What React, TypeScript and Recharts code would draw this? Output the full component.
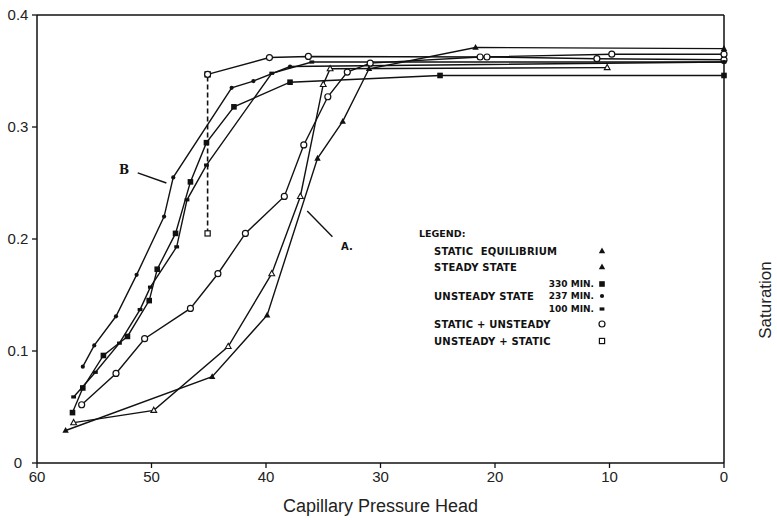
import React from 'react'
import { LineChart, Line, XAxis, YAxis, ReferenceLine } from 'recharts'

type Pt = { head: number; sat: number }

const headTicks = [0, 10, 20, 30, 40, 50, 60]
const topTicks = [10, 20, 30, 40, 50]
const satTicks = [0, 0.1, 0.2, 0.3, 0.4]

const staticEquilibrium: Pt[] = [
  { head: 57.5, sat: 0.029 },
  { head: 44.7, sat: 0.077 },
  { head: 39.9, sat: 0.132 },
  { head: 35.5, sat: 0.272 },
  { head: 33.3, sat: 0.305 },
  { head: 31.0, sat: 0.352 },
  { head: 21.7, sat: 0.371 },
  { head: 0, sat: 0.370 },
]

const steadyState: Pt[] = [
  { head: 56.8, sat: 0.036 },
  { head: 49.8, sat: 0.047 },
  { head: 43.3, sat: 0.104 },
  { head: 39.5, sat: 0.169 },
  { head: 37.0, sat: 0.238 },
  { head: 35.0, sat: 0.338 },
  { head: 34.4, sat: 0.352 },
  { head: 10.2, sat: 0.353 },
]

const unsteady330: Pt[] = [
  { head: 56.9, sat: 0.045 },
  { head: 56.0, sat: 0.067 },
  { head: 54.2, sat: 0.096 },
  { head: 52.1, sat: 0.113 },
  { head: 50.2, sat: 0.145 },
  { head: 49.5, sat: 0.173 },
  { head: 47.9, sat: 0.205 },
  { head: 46.6, sat: 0.251 },
  { head: 45.2, sat: 0.286 },
  { head: 42.8, sat: 0.318 },
  { head: 37.9, sat: 0.340 },
  { head: 24.8, sat: 0.346 },
  { head: 0, sat: 0.346 },
]

const unsteady237: Pt[] = [
  { head: 56.0, sat: 0.086 },
  { head: 55.0, sat: 0.105 },
  { head: 53.1, sat: 0.131 },
  { head: 51.3, sat: 0.168 },
  { head: 48.9, sat: 0.220 },
  { head: 48.1, sat: 0.255 },
  { head: 43.0, sat: 0.335 },
  { head: 41.1, sat: 0.341 },
  { head: 37.9, sat: 0.354 },
  { head: 0, sat: 0.358 },
]

const unsteady100: Pt[] = [
  { head: 56.8, sat: 0.059 },
  { head: 54.9, sat: 0.081 },
  { head: 52.8, sat: 0.107 },
  { head: 51.0, sat: 0.137 },
  { head: 50.1, sat: 0.157 },
  { head: 47.8, sat: 0.193 },
  { head: 46.9, sat: 0.235 },
  { head: 45.2, sat: 0.266 },
  { head: 39.5, sat: 0.348 },
  { head: 36.0, sat: 0.358 },
  { head: 0, sat: 0.358 },
]

const staticUnsteady: Pt[] = [
  { head: 56.1, sat: 0.052 },
  { head: 53.1, sat: 0.080 },
  { head: 50.6, sat: 0.111 },
  { head: 46.6, sat: 0.138 },
  { head: 44.2, sat: 0.169 },
  { head: 41.8, sat: 0.205 },
  { head: 38.4, sat: 0.238 },
  { head: 36.7, sat: 0.284 },
  { head: 34.6, sat: 0.327 },
  { head: 32.9, sat: 0.349 },
  { head: 30.9, sat: 0.357 },
  { head: 21.3, sat: 0.3625 },
  { head: 9.8, sat: 0.365 },
  { head: 0, sat: 0.365 },
]

const unsteadyStaticDrop: Pt[] = [
  { head: 45.1, sat: 0.205 },
  { head: 45.1, sat: 0.347 },
]

const unsteadyStatic: Pt[] = [
  { head: 45.1, sat: 0.347 },
  { head: 39.7, sat: 0.362 },
  { head: 36.3, sat: 0.363 },
  { head: 20.7, sat: 0.3625 },
  { head: 11.1, sat: 0.361 },
  { head: 0, sat: 0.360 },
]

const legendRows = [
  { label: 'STATIC  EQUILIBRIUM', sub: '', kind: 'triFilled' },
  { label: 'STEADY STATE', sub: '', kind: 'triSmall' },
  { label: '', sub: '330 MIN.', kind: 'bar' },
  { label: 'UNSTEADY STATE', sub: '237 MIN.', kind: 'dot' },
  { label: '', sub: '100 MIN.', kind: 'dash' },
  { label: 'STATIC + UNSTEADY', sub: '', kind: 'openCircle' },
  { label: 'UNSTEADY + STATIC', sub: '', kind: 'openSquare' },
]
const legendY = [251, 267, 284, 296, 309, 324, 341]

const INK = '#111'
const sans = '"Liberation Sans", Arial, Helvetica, sans-serif'

function marker(kind: string, cx: number, cy: number, key?: string) {
  switch (kind) {
    case 'triFilled':
      return <path key={key} d={`M${cx},${cy - 3.5}L${cx + 3.2},${cy + 2.3}L${cx - 3.2},${cy + 2.3}Z`} fill={INK} />
    case 'triSmall':
      return <path key={key} d={`M${cx},${cy - 3.2}L${cx + 2.9},${cy + 2}L${cx - 2.9},${cy + 2}Z`} fill="#fff" stroke={INK} strokeWidth={1.1} />
    case 'bar':
      return <rect key={key} x={cx - 2.8} y={cy - 2.8} width={5.6} height={5.6} fill={INK} />
    case 'dot':
      return <circle key={key} cx={cx} cy={cy} r={2.1} fill={INK} />
    case 'dash':
      return <rect key={key} x={cx - 2.4} y={cy - 1.6} width={4.8} height={3.2} fill={INK} />
    case 'openCircle':
      return <circle key={key} cx={cx} cy={cy} r={3} fill="#fff" stroke={INK} strokeWidth={1.2} />
    case 'openSquare':
      return <rect key={key} x={cx - 2.6} y={cy - 2.6} width={5.2} height={5.2} fill="#fff" stroke={INK} strokeWidth={1.2} />
    default:
      return <g key={key} />
  }
}

const dotOf = (kind: string) => (p: any) => {
  const k = `${kind}-${p.index}`
  if (p.cx == null || p.cy == null) return <g key={k} />
  return marker(kind, p.cx, p.cy, k)
}

const fmt = (v: number) => (v === 0 ? '0' : v.toFixed(1))

const LeftTick = (p: any) => (
  <text x={18} y={p.y} dy={5} textAnchor="middle" fontSize={15} fill="#222" fontFamily={sans}>
    {fmt(p.payload.value)}
  </text>
)

const RightTick = (p: any) => (
  <text x={746} y={p.y} dy={5} textAnchor="middle" fontSize={15} fill="#222" fontFamily={sans}>
    {fmt(p.payload.value)}
  </text>
)

const lineProps = {
  xAxisId: 'x',
  yAxisId: 'left',
  dataKey: 'sat',
  type: 'linear' as const,
  stroke: INK,
  strokeWidth: 1.4,
  activeDot: false,
  isAnimationActive: false,
}

export default function App() {
  return (
    <div style={{ position: 'absolute', left: 0, top: 0, width: 777, height: 520, background: '#fff' }}>
      <LineChart width={777} height={520} margin={{ top: 0, right: 0, bottom: 0, left: 0 }}>
        <XAxis
          xAxisId="x"
          dataKey="head"
          type="number"
          domain={[0, 60]}
          reversed
          ticks={headTicks}
          height={57}
          tickSize={5}
          tickMargin={3}
          axisLine={{ stroke: INK, strokeWidth: 1.5 }}
          tickLine={{ stroke: INK, strokeWidth: 1.3 }}
          tick={{ fontSize: 15, fill: '#222', fontFamily: sans }}
          label={{ value: 'Capillary Pressure Head', position: 'insideBottom', offset: 8, fontSize: 18, fill: '#222', fontFamily: sans }}
        />
        <XAxis
          xAxisId="top"
          orientation="top"
          dataKey="head"
          type="number"
          domain={[0, 60]}
          reversed
          ticks={topTicks}
          height={15}
          tickSize={5}
          tick={false}
          axisLine={{ stroke: INK, strokeWidth: 1.5 }}
          tickLine={{ stroke: INK, strokeWidth: 1.3 }}
        />
        <YAxis
          yAxisId="left"
          type="number"
          domain={[0, 0.4]}
          ticks={satTicks}
          width={37}
          tickSize={5}
          axisLine={{ stroke: INK, strokeWidth: 1.5 }}
          tickLine={{ stroke: INK, strokeWidth: 1.3 }}
          tick={LeftTick}
        />
        <YAxis
          yAxisId="right"
          orientation="right"
          type="number"
          domain={[0, 0.4]}
          ticks={satTicks}
          width={53}
          tickSize={5}
          axisLine={{ stroke: INK, strokeWidth: 1.5 }}
          tickLine={{ stroke: INK, strokeWidth: 1.3 }}
          tick={RightTick}
        />

        <ReferenceLine xAxisId="x" yAxisId="left" segment={[{ x: 51.2, y: 0.259 }, { x: 48.7, y: 0.25 }]} stroke={INK} strokeWidth={1.4} />
        <ReferenceLine xAxisId="x" yAxisId="left" segment={[{ x: 36.4, y: 0.225 }, { x: 34.2, y: 0.202 }]} stroke={INK} strokeWidth={1.4} />

        <Line {...lineProps} data={unsteadyStaticDrop} strokeDasharray="5 3" strokeWidth={1.6} dot={dotOf('openSquare')} />
        <Line {...lineProps} data={unsteadyStatic} dot={dotOf('openCircle')} />
        <Line {...lineProps} data={staticUnsteady} dot={dotOf('openCircle')} />
        <Line {...lineProps} data={unsteady100} dot={dotOf('dash')} />
        <Line {...lineProps} data={unsteady237} dot={dotOf('dot')} />
        <Line {...lineProps} data={unsteady330} dot={dotOf('bar')} />
        <Line {...lineProps} data={steadyState} dot={dotOf('triSmall')} />
        <Line {...lineProps} data={staticEquilibrium} dot={dotOf('triFilled')} />
      </LineChart>

      <svg width={777} height={520} style={{ position: 'absolute', left: 0, top: 0, pointerEvents: 'none' }}>
        <text x={771} y={300} transform="rotate(-90 771 300)" textAnchor="middle" fontSize={17} fill="#222" fontFamily={sans}>
          Saturation
        </text>
        <text x={119} y={174} fontSize={12} fontWeight="bold" fill={INK} fontFamily='"DejaVu Serif", serif'>B</text>
        <text x={341} y={250} fontSize={10} fontWeight="bold" fill={INK} fontFamily='"DejaVu Sans", sans-serif'>A.</text>
        <g fontFamily='"DejaVu Sans", sans-serif' fontWeight="bold" fill={INK}>
          <text x={419} y={236.5} fontSize={9.5}>LEGEND:</text>
          {legendRows.map((r, i) => (
            <g key={i}>
              {r.label && (
                <text x={434} y={legendY[i] + 3.5} fontSize={10} letterSpacing={0.2} style={{ whiteSpace: 'pre' }}>
                  {r.label}
                </text>
              )}
              {r.sub && (
                <text x={594} y={legendY[i] + 3.2} fontSize={9} textAnchor="end">
                  {r.sub}
                </text>
              )}
              {marker(r.kind === 'triSmall' ? 'triFilled' : r.kind, 602, legendY[i])}
            </g>
          ))}
        </g>
      </svg>
    </div>
  )
}
